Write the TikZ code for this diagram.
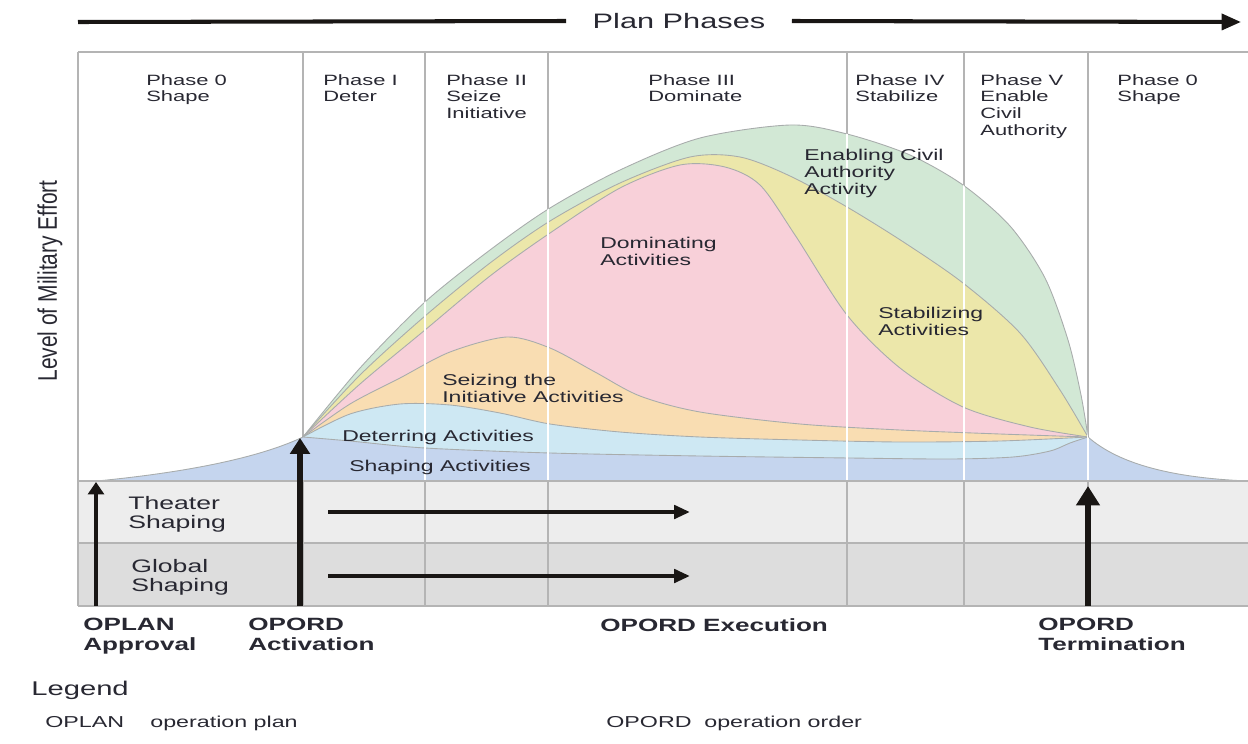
\documentclass[tikz,border=0pt]{standalone}
\usepackage{fontspec}
\setmainfont{Liberation Sans}[FakeStretch=1.47]
\newfontfamily\tallfont{Liberation Sans}[FakeStretch=0.78]
\usetikzlibrary{arrows.meta}

\definecolor{shapeblue}{RGB}{197,213,238}
\definecolor{deterblue}{RGB}{206,232,243}
\definecolor{seizeorange}{RGB}{249,221,178}
\definecolor{dompink}{RGB}{248,208,217}
\definecolor{stabyellow}{RGB}{236,231,170}
\definecolor{civgreen}{RGB}{210,232,213}
\definecolor{gridgray}{RGB}{180,180,180}
\definecolor{bandline}{RGB}{168,172,172}
\definecolor{rowlight}{RGB}{237,237,237}
\definecolor{rowdark}{RGB}{221,221,221}
\definecolor{textgray}{RGB}{40,40,50}
\definecolor{arrowblack}{RGB}{25,22,20}

\tikzset{
	phase/.style={anchor=north west, align=left, inner sep=0pt, text=textgray,
		font=\fontsize{8.5}{9.5}\selectfont},
	activity/.style={anchor=north west, align=left, inner sep=0pt, text=textgray,
		font=\fontsize{8.9}{9.6}\selectfont},
	rowlabel/.style={anchor=north west, align=left, inner sep=0pt, text=textgray,
		font=\fontsize{10.3}{10.8}\selectfont},
	milestone/.style={anchor=north west, align=left, inner sep=0pt, text=textgray,
		font=\bfseries\fontsize{10.1}{11.3}\selectfont},
	legitem/.style={anchor=base west, inner sep=0pt, text=textgray,
		font=\fontsize{9}{11}\selectfont},
	gridline/.style={draw=gridgray, line width=0.6pt},
	whiteline/.style={draw=white, line width=0.9pt},
	band/.style={draw=bandline, line width=0.5pt},
	planline/.style={draw=arrowblack, line width=2.3pt},
	thinarrow/.style={draw=arrowblack, line width=2.3pt, -{Triangle[length=7pt,width=9pt]}},
	bigarrow/.style={draw=arrowblack, line width=3.4pt, -{Triangle[length=9pt,width=11pt]}},
	rowarrow/.style={draw=arrowblack, line width=2.4pt, -{Triangle[length=9pt,width=7.5pt]}}
}

\begin{document}
\begin{tikzpicture}[x=0.02cm, y=-0.02cm]
	\useasboundingbox (0,0) rectangle (1248,744);

	% shaping rows
	\fill[rowlight] (78,481) rectangle (1248,543);
	\fill[rowdark] (78,543) rectangle (1248,606);

	% phase grid
	\draw[gridline] (78,52) -- (1248,52);
	\draw[gridline] (78,52) -- (78,606);
	\foreach \px in {303,425,548,847,964,1088}
		\draw[gridline] (\px,52) -- (\px,606);

	% effort bands
	\filldraw[band, fill=civgreen] plot[smooth] coordinates {(303,437) (360,368) (425,302) (490,250) (550,208) (620,170) (700,138) (790,125) (847,134) (910,155) (963,185) (1010,226) (1045,278) (1068,340) (1081,395) (1088,437)} -- (1088,481) -- (303,481) -- cycle;
	\filldraw[band, fill=stabyellow] plot[smooth] coordinates {(303,437) (360,375) (425,316) (490,263) (550,221) (620,183) (690,157) (740,157) (790,176) (847,207) (905,243) (963,283) (1020,333) (1060,390) (1088,437)} -- (1088,481) -- (303,481) -- cycle;
	\filldraw[band, fill=dompink] plot[smooth] coordinates {(303,437) (360,384) (425,330) (490,276) (550,233) (620,188) (680,165) (725,167) (760,185) (795,235) (847,315) (900,368) (963,407) (1030,427) (1088,437)} -- (1088,481) -- (303,481) -- cycle;
	\filldraw[band, fill=seizeorange] plot[smooth] coordinates {(303,437) (350,404) (400,378) (450,352) (507,337) (550,348) (595,372) (640,396) (700,412) (800,424) (900,430) (1000,434) (1088,437)} -- (1088,481) -- (303,481) -- cycle;
	\filldraw[band, fill=deterblue] plot[smooth] coordinates {(303,437) (350,414) (400,404) (450,405) (500,413) (550,424) (620,432) (700,437) (800,440) (900,442) (1000,441) (1088,437)} -- (1088,481) -- (303,481) -- cycle;
	\filldraw[band, fill=shapeblue] (97,481) .. controls (200,471) and (265,455) .. (303,437)
		-- plot[smooth] coordinates {(303,437) (350,441) (425,448) (550,453) (700,456) (850,458) (950,459) (1013,457) (1050,451) (1070,443) (1088,437)}
		.. controls (1120,465) and (1175,478) .. (1248,481) -- cycle;

	% grid seen through the bands
	\begin{scope}
		\clip (97,481) .. controls (200,471) and (265,455) .. (303,437)
			-- plot[smooth] coordinates {(303,437) (360,368) (425,302) (490,250) (550,208) (620,170) (700,138) (790,125) (847,134) (910,155) (963,185) (1010,226) (1045,278) (1068,340) (1081,395) (1088,437)}
			.. controls (1120,465) and (1175,478) .. (1248,481) -- cycle;
		\foreach \px in {425,548,847,964,1088}
			\draw[whiteline] (\px,52) -- (\px,481);
	\end{scope}

	\draw[gridline] (78,481) -- (1248,481);
	\draw[gridline] (78,543) -- (1248,543);
	\draw[gridline] (78,606) -- (1248,606);

	% title arrow
	\node[inner xsep=15pt, inner ysep=0pt, font=\fontsize{11.9}{14}\selectfont, text=textgray] (plan) at (679,21) {Plan Phases};
	\coordinate (planstart) at (78,22);
	\coordinate (planend) at (1241,22);
	\draw[planline] (planstart) -- (plan.west);
	\draw[planline, -{Triangle[length=11pt,width=9pt]}] (plan.east) -- (planend);

	\node[rotate=90, inner sep=0pt, text=textgray, font=\tallfont\fontsize{15.3}{18}\selectfont] (effort) at (50,281) {Level of Military Effort};

	% phases
	\node[phase] (ph0) at (146,74) {Phase 0\\Shape};
	\node[phase] (ph1) at (323,74) {Phase I\\Deter};
	\node[phase] (ph2) at (446,74) {Phase II\\Seize\\Initiative};
	\node[phase] (ph3) at (648,74) {Phase III\\Dominate};
	\node[phase] (ph4) at (855,74) {Phase IV\\Stabilize};
	\node[phase] (ph5) at (980,74) {Phase V\\Enable\\Civil\\Authority};
	\node[phase] (ph0b) at (1117,74) {Phase 0\\Shape};

	% activities
	\node[activity] (ena) at (804,149) {Enabling Civil\\Authority\\Activity};
	\node[activity] (dom) at (600,237) {Dominating\\Activities};
	\node[activity] (stb) at (878,307) {Stabilizing\\Activities};
	\node[activity] (sei) at (442,374) {Seizing the\\Initiative Activities};
	\node[activity] (det) at (342,430) {Deterring Activities};
	\node[activity] (shp) at (349,460) {Shaping Activities};

	% shaping rows
	\node[rowlabel] (thr) at (128,496) {Theater\\Shaping};
	\node[rowlabel] (glb) at (131,559) {Global\\Shaping};
	\coordinate (thrstart) at (328,512);
	\coordinate (thrend) at (690,512);
	\coordinate (glbstart) at (328,576);
	\coordinate (glbend) at (690,576);
	\draw[rowarrow] (thrstart) -- (thrend);
	\draw[rowarrow] (glbstart) -- (glbend);

	% milestones
	\coordinate (oplanfoot) at (96,606);
	\coordinate (oplantip) at (96,482);
	\coordinate (actfoot) at (300,606);
	\coordinate (acttip) at (300,438);
	\coordinate (termfoot) at (1088,606);
	\coordinate (termtip) at (1088,486);
	\draw[thinarrow] (oplanfoot) -- (oplantip);
	\draw[bigarrow] (actfoot) -- (acttip);
	\draw[bigarrow, -{Triangle[length=11pt,width=13pt]}] (termfoot) -- (termtip);

	\node[milestone] (oplan) at (83,618) {OPLAN\\Approval};
	\node[milestone] (act) at (248,618) {OPORD\\Activation};
	\node[milestone] (exe) at (600,618) {OPORD Execution};
	\node[milestone] (term) at (1038,618) {OPORD\\Termination};

	% legend
	\node[anchor=base west, inner sep=0pt, text=textgray, font=\fontsize{11.3}{13}\selectfont] (leg) at (31,695) {Legend};
	\node[legitem] (k1) at (45,727) {OPLAN};
	\node[legitem] (v1) at (150,727) {operation plan};
	\node[legitem] (k2) at (606,727) {OPORD};
	\node[legitem] (v2) at (704,727) {operation order};
\end{tikzpicture}
\end{document}
